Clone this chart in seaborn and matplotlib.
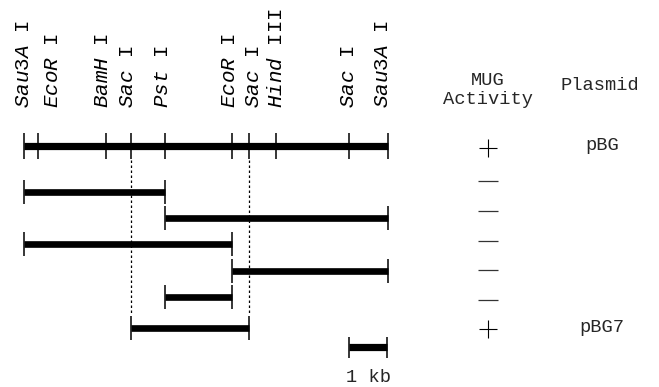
import numpy as np
import pandas as pd
import matplotlib
matplotlib.use("Agg")
import matplotlib.pyplot as plt
import seaborn as sns

# restriction sites along the 9.45 kb insert (kb from left Sau3A I)
site_names = ["Sau3A", "EcoR", "BamH", "Sac", "Pst", "EcoR", "Sac", "Hind", "Sac", "Sau3A"]
site_suffix = ["I", "I", "I", "I", "I", "I", "I", "III", "I", "I"]
site_kb = [0.0, 0.36, 2.13, 2.78, 3.66, 5.40, 5.84, 6.55, 8.44, 9.45]

# subclones (start / end in kb)
frag_start = [0.0, 3.66, 0.0, 5.40, 3.66, 2.78]
frag_end = [3.66, 9.45, 5.40, 9.45, 5.40, 5.84]

mug = ["+", "-", "-", "-", "-", "-", "+"]
plasmid = ["pBG", "", "", "", "", "", "pBG7"]

scale_kb = [8.44, 9.44]

# layout (pixel rows from top, kb for x)
row_y = [146, 192, 218, 244, 271, 297, 328]
mug_y = [148, 181, 211, 241, 270, 300, 329]
label_kb = [0.0, 0.73, 2.03, 2.70, 3.61, 5.35, 5.95, 6.57, 8.42, 9.32]

sns.set_style("white")
plt.rcParams["font.family"] = ["Liberation Mono", "DejaVu Sans"]
plt.rcParams["mathtext.fontset"] = "custom"
plt.rcParams["mathtext.rm"] = "Liberation Mono"
plt.rcParams["mathtext.it"] = "Liberation Mono:italic"

fig = plt.figure(figsize=(6.59, 3.87), dpi=100)
ax = fig.add_axes([0, 0, 1, 1])
px = 38.5  # pixels per kb
ax.set_xlim(-24 / px, (659 - 24) / px)
ax.set_ylim(387, 0)
ax.axis("off")

fs = 13.5
# enzyme labels
for name, suf, xk in zip(site_names, site_suffix, label_kb):
    ax.text(xk, 108, r"$\mathit{%s}$ %s" % (name, suf), rotation=90,
            ha="center", va="bottom", fontsize=15, color="black")

# full map
ax.hlines(row_y[0], site_kb[0], site_kb[-1], color="black", lw=5.2)
ax.vlines(site_kb, row_y[0] - 13, row_y[0] + 13, color="black", lw=1.1)

# subclones
for s, e, y in zip(frag_start, frag_end, row_y[1:]):
    ax.hlines(y, s, e, color="black", lw=4.8)
    ax.vlines([s, e], y - 12, y + 12, color="black", lw=1.1)

# dotted guides at the two Sac I sites
for xk in [site_kb[3], site_kb[6]]:
    ax.vlines(xk, 160, 315, color="black", lw=0.9, linestyles=(0, (2, 2)))

# scale bar
ax.hlines(347, scale_kb[0], scale_kb[1], color="black", lw=5.2)
ax.vlines(scale_kb, 337, 358, color="black", lw=1.1)
ax.text(np.mean(scale_kb), 377, "1 kb", ha="center", va="center", fontsize=fs)

# MUG activity column
mug_x = (488 - 24) / px
df = pd.DataFrame({"x": [mug_x] * len(mug), "y": mug_y, "mug": mug})
sns.scatterplot(data=df[df.mug == "+"], x="x", y="y", marker="+", s=150,
                color="black", linewidth=0.8, ax=ax, legend=False)
sns.scatterplot(data=df[df.mug == "-"], x="x", y="y", marker="_", s=210,
                color="#333333", linewidth=0.9, ax=ax, legend=False)
ax.set_xlabel("")
ax.set_ylabel("")

ax.text((488 - 24) / px, 90, "MUG\nActivity", ha="center", va="center",
        fontsize=fs, linespacing=1.2)
ax.text((600 - 24) / px, 86, "Plasmid", ha="center", va="center", fontsize=fs)

for p, y in zip(plasmid, row_y):
    if p:
        ax.text((602 - 24) / px, y, p, ha="center", va="center", fontsize=fs)

fig.savefig("out.png", dpi=100)
